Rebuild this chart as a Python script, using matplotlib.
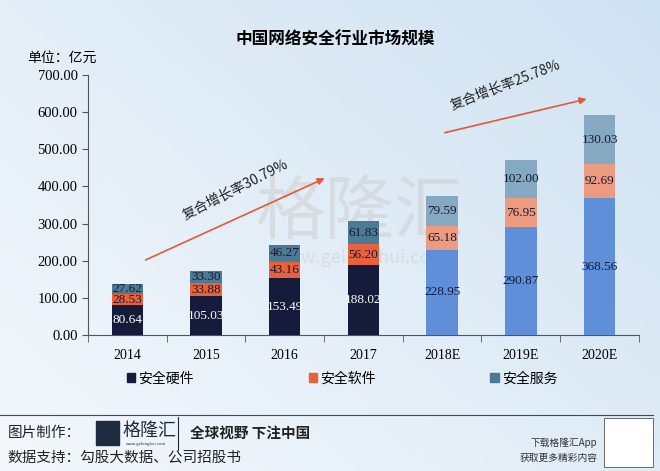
import numpy as np
import matplotlib
matplotlib.use("Agg")
from matplotlib import pyplot as plt
from matplotlib.patches import Rectangle

plt.rcParams['font.family'] = ['Noto Sans CJK SC', 'DejaVu Sans']
SERIF = ['Liberation Serif', 'DejaVu Serif']

years = ['2014', '2015', '2016', '2017', '2018E', '2019E', '2020E']
hardware = [80.64, 105.03, 153.49, 188.02, 228.95, 290.87, 368.56]
software = [28.53, 33.88, 43.16, 56.20, 65.18, 76.95, 92.69]
service = [27.62, 33.30, 46.27, 61.83, 79.59, 102.00, 130.03]
series_names = ['安全硬件', '安全软件', '安全服务']
yticks = [0, 100, 200, 300, 400, 500, 600, 700]
cagr_labels = ['复合增长率30.79%', '复合增长率25.78%']

n_actual = 4
hw_col = ['#141b3b'] * n_actual + ['#5f8fd8'] * 3
sw_col = ['#e8613b'] * n_actual + ['#ec9a80'] * 3
sv_col = ['#4a7a96'] * n_actual + ['#85a9c2'] * 3

fig = plt.figure(figsize=(6.6, 4.71), dpi=100)

# light blue background gradient
bg = fig.add_axes([0, 0, 1, 1], zorder=-10)
gx, gy = np.meshgrid(np.linspace(0, 1, 200), np.linspace(0, 1, 150))
grad = 0.55 * gx + 0.45 * (1 - gy)
bg.imshow(grad, cmap=matplotlib.colors.LinearSegmentedColormap.from_list(
    'bg', ['#f4f8fc', '#cfe2f2']), aspect='auto', extent=[0, 1, 0, 1])
bg.set_xlim(0, 1)
bg.set_ylim(0, 1)
bg.axis('off')

# watermark (behind the bars)
bg.text(0.545, 0.545, '格隆汇', fontsize=50, color='#cfcfcf', alpha=0.55,
        ha='center', va='center')
bg.text(0.545, 0.452, 'www.gelonghui.com', fontsize=13, color='#cfcfcf',
        alpha=0.55, ha='center', va='center')

ax = fig.add_axes([0.1333, 0.2887, 0.8347, 0.5521])
ax.set_facecolor('none')
x = np.arange(len(years))
w = 0.4
hw = np.array(hardware)
sw = np.array(software)
sv = np.array(service)
ax.bar(x, hw, w, color=hw_col, zorder=3)
ax.bar(x, sw, w, bottom=hw, color=sw_col, zorder=3)
ax.bar(x, sv, w, bottom=hw + sw, color=sv_col, zorder=3)

for i in range(len(years)):
    c_hw = 'white' if i < n_actual else '#141b3b'
    ax.text(x[i], hw[i] / 2, f'{hw[i]:.2f}', ha='center', va='center',
            color=c_hw, fontsize=9.5, family=SERIF, zorder=4)
    ax.text(x[i], hw[i] + sw[i] / 2, f'{sw[i]:.2f}', ha='center', va='center',
            color='#1a1a2e', fontsize=9.5, family=SERIF, zorder=4)
    ax.text(x[i], hw[i] + sw[i] + sv[i] / 2, f'{sv[i]:.2f}', ha='center',
            va='center', color='#1a1a2e', fontsize=9.5, family=SERIF, zorder=4)

ax.set_xlim(-0.5, len(years) - 0.5)
ax.set_ylim(0, 700)
ax.set_yticks(yticks)
ax.set_yticklabels([f'{v:.2f}' for v in yticks], family=SERIF, fontsize=10.5)
ax.set_xticks(x)
ax.set_xticklabels(years, family=SERIF, fontsize=10)
ax.set_xticks(np.arange(-0.5, len(years)), minor=True)
ax.tick_params(axis='x', which='major', length=0, pad=10)
ax.tick_params(axis='x', which='minor', length=5, direction='out', color='#555555')
ax.tick_params(axis='y', length=4, color='#555555')
for s in ['top', 'right']:
    ax.spines[s].set_visible(False)
ax.spines['left'].set_color('#555555')
ax.spines['bottom'].set_color('#555555')

# CAGR arrows
ax.annotate('', xy=(2.54, 425), xytext=(0.2, 199),
            arrowprops=dict(arrowstyle='-|>', color='#e2593a', lw=1.2,
                            mutation_scale=10), zorder=5)
ax.text(1.37, 392, cagr_labels[0], rotation=27, ha='center', va='center',
        fontsize=10, color='#222222', family=['Noto Sans CJK SC'])
ax.annotate('', xy=(5.87, 637), xytext=(4.0, 543),
            arrowprops=dict(arrowstyle='-|>', color='#e2593a', lw=1.2,
                            mutation_scale=10), zorder=5)
ax.text(4.8, 672, cagr_labels[1], rotation=21, ha='center', va='center',
        fontsize=10, color='#222222', family=['Noto Sans CJK SC'])

fig.text(0.508, 0.915, '中国网络安全行业市场规模', ha='center', va='center',
         fontsize=12, fontweight='bold')
fig.text(0.042, 0.878, '单位：亿元', ha='left', va='center', fontsize=10)

handles = [Rectangle((0, 0), 1, 1, color=c) for c in ['#141b3b', '#e8613b', '#4a7a96']]
fig.legend(handles, series_names, loc='center', bbox_to_anchor=(0.518, 0.197),
           ncol=3, frameon=False, fontsize=10, handlelength=0.6,
           handleheight=0.6, handletextpad=0.2, columnspacing=8.3)

# footer
fig.add_artist(plt.Line2D([0.0, 0.99], [0.119, 0.119], color='#3b4a5c', lw=0.8))
fig.text(0.012, 0.081, '图片制作：', fontsize=10.5, va='center', color='#222222')
fig.add_artist(Rectangle((0.145, 0.056), 0.036, 0.05, color='#1d2c3e'))
fig.text(0.186, 0.085, '格隆汇', fontsize=13, va='center', color='#1d2c3e')
fig.text(0.19, 0.058, 'www.gelonghui.com', fontsize=3, va='center', color='#1d2c3e')
fig.add_artist(plt.Line2D([0.27, 0.27], [0.045, 0.115], color='#1d2c3e', lw=0.8))
fig.text(0.288, 0.081, '全球视野 下注中国', fontsize=10.5, fontweight='bold',
         va='center', color='#222222')
fig.text(0.012, 0.028, '数据支持：勾股大数据、公司招股书', fontsize=10.5,
         va='center', color='#222222')
fig.text(0.905, 0.06, '下载格隆汇App', fontsize=7, ha='right', va='center',
         color='#333333')
fig.text(0.905, 0.028, '获取更多精彩内容', fontsize=7, ha='right', va='center',
         color='#333333')
fig.add_artist(Rectangle((0.915, 0.008), 0.075, 0.105, facecolor='white',
                         edgecolor='#333333', lw=0.5))

fig.savefig('out.png', dpi=100)
